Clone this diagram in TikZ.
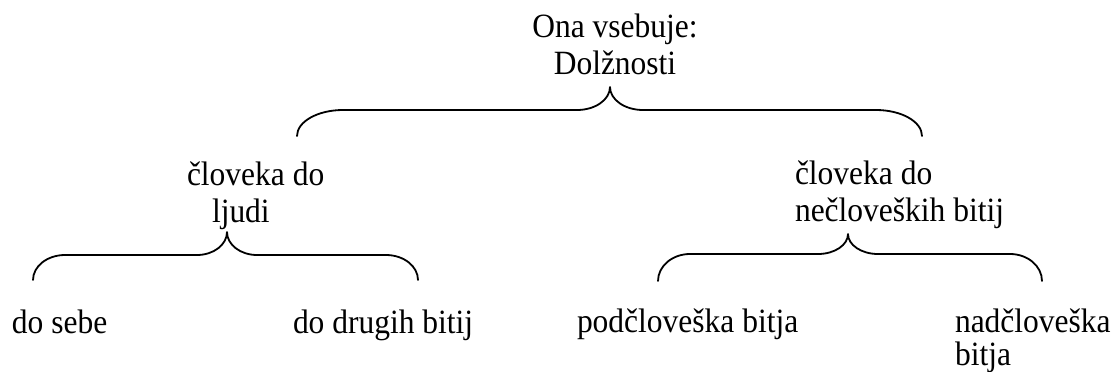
\documentclass[tikz,border=0pt]{standalone}
\usepackage{fontspec}
\setmainfont{Liberation Serif}[FakeStretch=0.926]
\newcommand\curlybrace[8]{% left x, right x, tip x, tip y, bar y, end y, corner width, tip width
  \draw[bracestroke] (#1,#6) .. controls (#1,#6-0.552*#6+0.552*#5) and (#1+0.448*#7,#5) .. (#1+#7,#5)
    -- (#3-#8,#5) .. controls (#3-0.448*#8,#5) and (#3,#4+0.552*#5-0.552*#4) .. (#3,#4)
    .. controls (#3,#4+0.552*#5-0.552*#4) and (#3+0.448*#8,#5) .. (#3+#8,#5)
    -- (#2-#7,#5) .. controls (#2-0.448*#7,#5) and (#2,#6-0.552*#6+0.552*#5) .. (#2,#6);}
\begin{document}
\begin{tikzpicture}[x=1pt,y=-1pt,
  label/.style={inner sep=0pt,outer sep=0pt,font=\fontsize{34}{37}\selectfont},
  bracestroke/.style={line width=1.8pt,line cap=round,line join=round}]
\useasboundingbox (0,0) rectangle (1114,372);

% texts (multi-line labels are placed by the baseline of their last line)
\node[label,align=center,anchor=base] (root) at (615,74) {Ona vsebuje:\\Dolžnosti};
\node[label,align=left,anchor=base west] (ljudi) at (187,222) {človeka do\\\hspace*{25pt}ljudi};
\node[label,align=left,anchor=base west] (nebitja) at (795,221) {človeka do\\nečloveških bitij};
\node[label,anchor=base west] (sebe) at (12,333) {do sebe};
\node[label,anchor=base west] (drugi) at (293,333) {do drugih bitij};
\node[label,anchor=base west] (pod) at (577,332) {podčloveška bitja};
\node[label,align=left,anchor=base west,font=\fontsize{34}{33}\selectfont] (nad) at (955,365) {nadčloveška\\bitja};

% braces
\curlybrace{297}{922}{610}{87}{110}{136}{46}{33}
\curlybrace{33}{418}{227}{232}{255}{280}{32}{30}
\curlybrace{658}{1042}{848}{234}{254}{281}{32}{30}
\end{tikzpicture}
\end{document}
